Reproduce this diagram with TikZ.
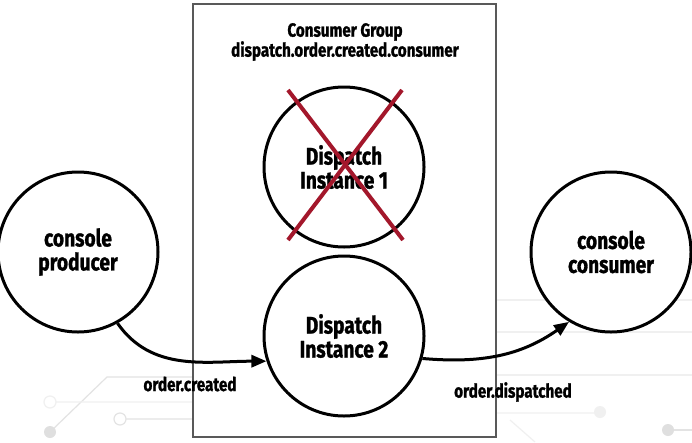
\documentclass[tikz,border=0pt]{standalone}
\usepackage{fontspec}
\newfontfamily\handfont[FakeStretch=0.8,FakeBold=1.2]{Fira Sans}
\usetikzlibrary{arrows.meta}
\definecolor{crossred}{HTML}{A3172B}
\begin{document}
\begin{tikzpicture}[x=1pt,y=-1pt,
  main node/.style={circle,draw,line width=3pt,fill=white,minimum size=160pt,inner sep=0pt,
    align=center,font=\handfont\bfseries\fontsize{24}{24}\selectfont},
  group box/.style={draw=gray!70!black,line width=1.6pt,fill=white,minimum width=303pt,minimum height=433pt},
  label text/.style={font=\handfont\bfseries\fontsize{19}{20}\selectfont,align=center,inner sep=0pt},
  flow/.style={line width=3pt,-{Triangle[length=15pt,width=12pt]}},
  circuit/.style={gray!22,line width=1.2pt}]

  \fill[white] (0,0) rectangle (692,442);
  \useasboundingbox (0,0) rectangle (692,442);

  % faint background
  \draw[circuit] (50,432) -- (107,377) -- (193,377);
  \fill[gray!25] (50,432) circle (6);
  \draw[circuit,gray!12] (50,402) circle (6) (56,402) -- (193,402);
  \draw[circuit] (120,419) circle (6) (126,419) -- (193,419);
  \draw[circuit,gray!12] (496,300) -- (692,300) (496,332) -- (692,332) (496,375) -- (692,375);
  \draw[circuit,gray!12] (496,413) -- (595,413) (510,420) -- (535,442);
  \fill[gray!12] (600,412) circle (6);
  \fill[gray!25] (668,430) circle (6);
  \draw[circuit] (674,430) -- (692,430);

  \node[group box] (group) at (344.5,220.5){};
  \node[label text] (title) at (345,42){Consumer Group\\dispatch.order.created.consumer};

  \node[main node] (prod) at (78,252){console\\producer};
  \node[main node] (inst1) at (344,167){Dispatch\\Instance 1};
  \node[main node] (inst2) at (344,336){Dispatch\\Instance 2};
  \node[main node] (cons) at (611,252){console\\consumer};

  \draw[crossred,line width=4pt] ([shift={(-56,-77)}]inst1.center) -- ([shift={(59,73)}]inst1.center)
    ([shift={(58,-77)}]inst1.center) -- ([shift={(-56,73)}]inst1.center);

  \path[flow]
    (prod.-61) edge[out=-55,in=180] (inst2.198)
    (inst2.-16) edge[out=-5,in=215] (cons.-121);

  \node[label text] (created) at (190,384){order.created};
  \node[label text] (dispatched) at (513,392){order.dispatched};
\end{tikzpicture}
\end{document}
